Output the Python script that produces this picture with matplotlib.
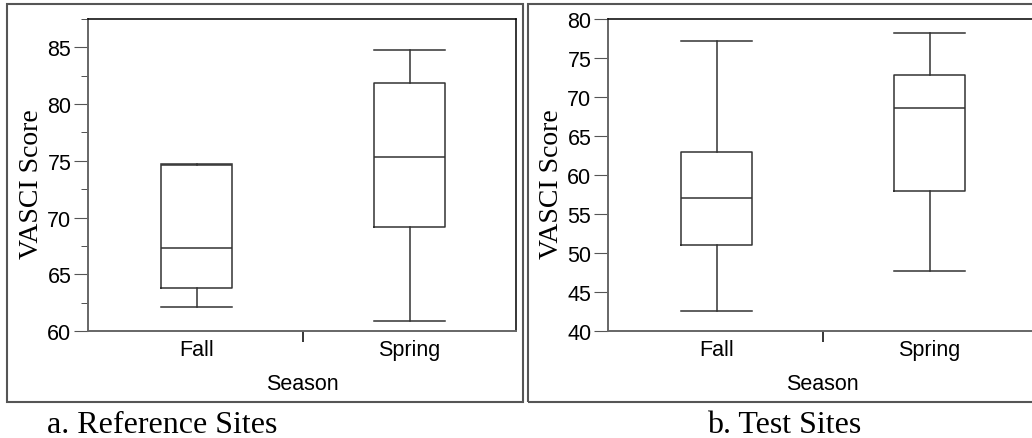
import matplotlib.pyplot as plt
from matplotlib.patches import Rectangle
from matplotlib.ticker import MultipleLocator

# datos (min, Q1, mediana, Q3, max)
estaciones = ['Fall', 'Spring']
ref_min = [62.1, 60.9]
ref_q1 = [63.8, 69.2]
ref_med = [67.3, 75.3]
ref_q3 = [74.6, 81.9]
ref_max = [74.7, 84.8]

test_min = [42.6, 47.7]
test_q1 = [51.0, 57.9]
test_med = [57.0, 68.6]
test_q3 = [63.0, 72.8]
test_max = [77.2, 78.2]

titulos = ['a. Reference Sites', 'b. Test Sites']

W, H = 1032, 439
fig = plt.figure(figsize=(W / 100, H / 100), dpi=100)


def stats(mn, q1, med, q3, mx):
    return [dict(whislo=mn[i], q1=q1[i], med=med[i], q3=q3[i], whishi=mx[i],
                 fliers=[], label=estaciones[i]) for i in range(len(mn))]


def caja(left, ylim, datos, minor):
    ax = fig.add_axes([left / W, (H - 332) / H, 428 / W, 312 / H])
    lc = '#333333'
    ax.bxp(datos, positions=[1, 2], widths=0.33, capwidths=0.33,
           boxprops=dict(color=lc, lw=1.1), whiskerprops=dict(color=lc, lw=1.1),
           capprops=dict(color=lc, lw=1.1), medianprops=dict(color=lc, lw=1.1))
    ax.set_xlim(0.49, 2.5)
    ax.set_ylim(*ylim)
    ax.set_xticks([1, 2], estaciones)
    ax.set_xticks([1.5], minor=True)
    ax.tick_params(axis='x', which='major', length=0, pad=6)
    ax.tick_params(axis='x', which='minor', length=8, width=1.1, color='black')
    ax.yaxis.set_major_locator(MultipleLocator(5))
    if minor:
        ax.yaxis.set_minor_locator(MultipleLocator(2.5))
        ax.tick_params(axis='y', which='minor', length=5, color='#333333')
    ax.tick_params(axis='y', which='major', length=10, pad=2, color='#555555')
    for lab in ax.get_xticklabels() + ax.get_yticklabels():
        lab.set_family('Liberation Sans')
        lab.set_fontsize(15.5)
    for s in ['left', 'bottom']:
        ax.spines[s].set_color('#666666')
        ax.spines[s].set_linewidth(1.4)
    for s in ['top', 'right']:
        ax.spines[s].set_color('black')
        ax.spines[s].set_linewidth(1.1)
    ax.set_ylabel('VASCI Score', family='Liberation Serif', fontsize=20)
    ax.yaxis.set_label_coords(-0.103, 0.475)
    ax.set_xlabel('Season', family='Liberation Sans', fontsize=15.5)
    ax.xaxis.set_label_coords(0.5, -0.135)
    return ax


caja(88, (60, 87.5), stats(ref_min, ref_q1, ref_med, ref_q3, ref_max), True)
caja(608, (40, 80), stats(test_min, test_q1, test_med, test_q3, test_max), False)

# marcos exteriores
for x0, x1 in [(7, 523), (528, 1045)]:
    fig.patches.append(Rectangle((x0 / W, (H - 403) / H), (x1 - x0) / W, 398 / H,
                                 transform=fig.transFigure, fill=False,
                                 edgecolor='#555555', lw=1.5))

fig.text(162 / W, (H - 433) / H, titulos[0], family='Liberation Serif',
         fontsize=23, ha='center', va='baseline')
fig.text(784 / W, (H - 433) / H, titulos[1], family='Liberation Serif',
         fontsize=23, ha='center', va='baseline')

fig.savefig('out.png', dpi=100)
